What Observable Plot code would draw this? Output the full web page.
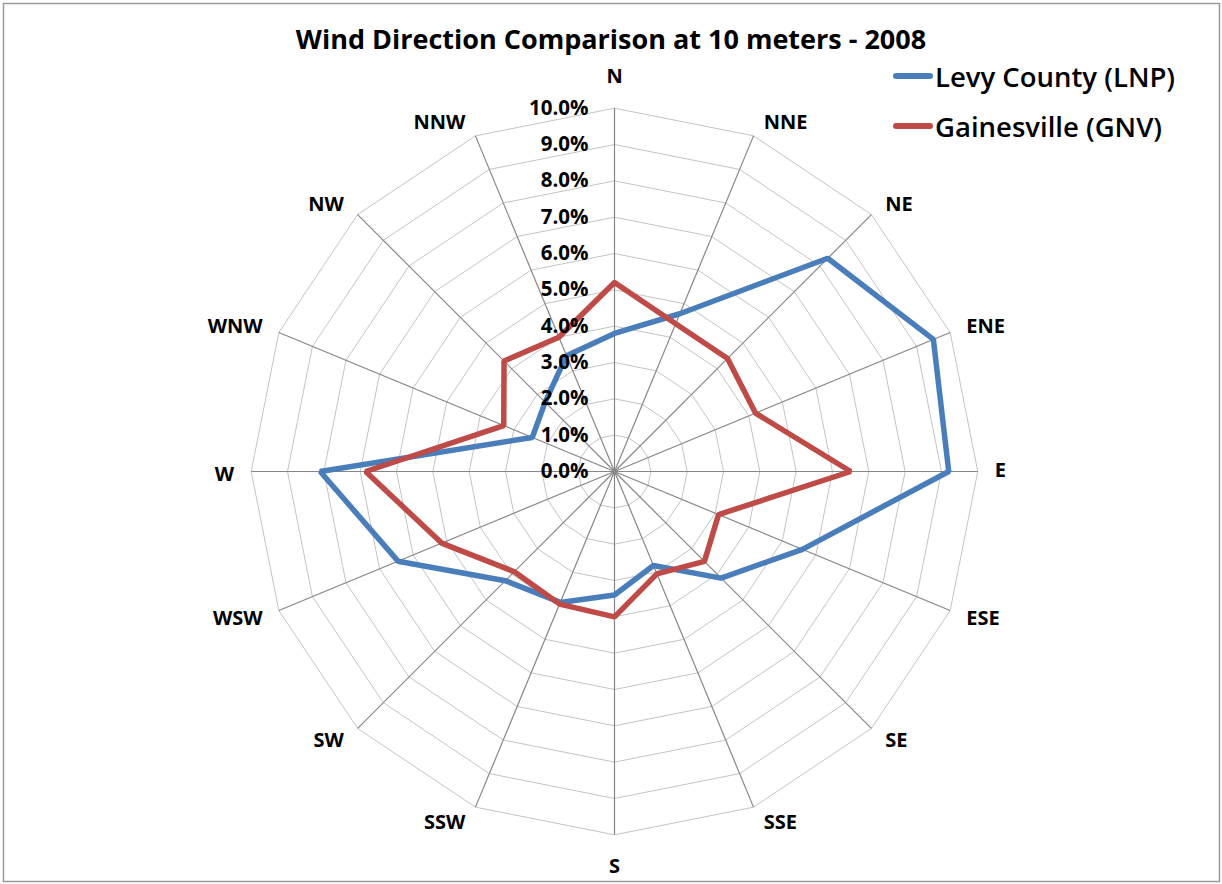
<!DOCTYPE html>
<html>
<head>
<meta charset="utf-8">
<script src="https://cdn.jsdelivr.net/npm/d3@7"></script>
<script src="https://cdn.jsdelivr.net/npm/@observablehq/plot@0.6"></script>
<style>
  html, body { margin: 0; padding: 0; background: #fff; }
  #wrap { position: relative; width: 1222px; height: 884px; font-family: "Open Sans", sans-serif; }
  #title { position: absolute; left: 0; width: 1222px; top: 20px; text-align: center; font-size: 27px; font-weight: 700; color: #000; }
  #legend { position: absolute; left: 893px; top: 51px; }
  .item { display: flex; align-items: center; height: 50px; font-size: 27.5px; font-weight: 600; color: #000; white-space: nowrap; }
  .sw { width: 40px; height: 6px; border-radius: 3px; margin-right: 2px; }
</style>
</head>
<body>
<div id="wrap">
  <div id="chart"></div>
  <div id="title"></div>
  <div id="legend"></div>
</div>
<script>
const title = "Wind Direction Comparison at 10 meters - 2008";
const directions = ["N","NNE","NE","ENE","E","ESE","SE","SSE","S","SSW","SW","WSW","W","WNW","NW","NNW"];
const seriesNames = ["Levy County (LNP)", "Gainesville (GNV)"];
const levy = [3.8, 4.7, 8.3, 9.5, 9.2, 5.6, 4.15, 2.8, 3.4, 3.9, 4.25, 6.45, 8.1, 2.45, 2.7, 3.45];
const gnv  = [5.2, 4.4, 4.4, 4.2, 6.5, 3.1, 3.5, 3.05, 4.0, 3.95, 3.9, 5.15, 6.85, 3.3, 4.3, 4.0];
const tickValues = [0,1,2,3,4,5,6,7,8,9,10];
const tickLabels = ["0.0%","1.0%","2.0%","3.0%","4.0%","5.0%","6.0%","7.0%","8.0%","9.0%","10.0%"];
const colors = ["#4A7EBB", "#BE4B48"];

const W = 1222, H = 884, cx = 614, cy = 471, K = 36.33;
const maxV = 10;
const n = directions.length;
const ang = i => i * 2 * Math.PI / n;
const sn = i => Math.sin(ang(i));
const cs = i => Math.cos(ang(i));
const px = (r, i) => r * sn(i);
const py = (r, i) => r * cs(i);

// ring polygons (gridlines at each tick value)
const rings = [];
for (const k of tickValues.slice(1)) {
  for (let i = 0; i <= n; i++) rings.push({k, x: px(k, i % n), y: py(k, i % n)});
}
function poly(values, name) {
  const out = [];
  for (let i = 0; i <= n; i++) out.push({name, x: px(values[i % n], i % n), y: py(values[i % n], i % n)});
  return out;
}
const levyPts = poly(levy, seriesNames[0]);
const gnvPts = poly(gnv, seriesNames[1]);

const spokes = directions.map((d, i) => ({d, x2: px(maxV, i), y2: py(maxV, i)}));
// category labels placed just outside the outer ring end, Excel-style
const dirLabels = directions.map((d, i) => {
  const s = sn(i), c = cs(i);
  const side = Math.abs(s) < 0.1 ? 0 : Math.sign(s);
  return {
    d, side,
    x: px(maxV, i), y: py(maxV, i),
    dx: side === 0 ? 0 : side * (6 + 11 * Math.abs(s)),
    dy: side === 0 ? -Math.sign(c) * 32 : -13 * c + (c < 0 ? 3 : -1)
  };
});

const chart = Plot.plot({
  width: W, height: H,
  marginTop: 0, marginRight: 0, marginBottom: 0, marginLeft: 0,
  x: {domain: [-cx / K, (W - cx) / K], axis: null},
  y: {domain: [-(H - cy) / K, cy / K], axis: null},
  style: {fontFamily: "Open Sans, sans-serif", background: "white"},
  marks: [
    Plot.frame({stroke: "#9a9a9a", strokeWidth: 1.5, inset: 3}),
    Plot.line(rings, {x: "x", y: "y", z: "k", stroke: "#c4c4c4", strokeWidth: 1}),
    Plot.link(spokes, {x1: 0, y1: 0, x2: "x2", y2: "y2", stroke: "#878787", strokeWidth: 1.2}),
    Plot.line(levyPts, {x: "x", y: "y", stroke: colors[0], strokeWidth: 5.5, strokeLinejoin: "miter"}),
    Plot.line(gnvPts, {x: "x", y: "y", stroke: colors[1], strokeWidth: 5.5, strokeLinejoin: "miter"}),
    Plot.text(tickValues, {x: 0, y: d => d, text: (d, i) => tickLabels[i], textAnchor: "end", dx: -26, fontSize: 20.5, fontWeight: 700, fill: "#000"}),
    ...dirLabels.map(l => Plot.text([l], {
      x: "x", y: "y", text: "d", fontSize: 20, fontWeight: 700, fill: "#000",
      textAnchor: l.side > 0 ? "start" : l.side < 0 ? "end" : "middle",
      dx: l.dx, dy: l.dy
    }))
  ]
});
document.getElementById("chart").appendChild(chart);
document.getElementById("title").textContent = title;
const legend = document.getElementById("legend");
seriesNames.forEach((s, i) => {
  const it = document.createElement("div");
  it.className = "item";
  const sw = document.createElement("div");
  sw.className = "sw";
  sw.style.background = colors[i];
  const t = document.createElement("span");
  t.textContent = s;
  it.appendChild(sw); it.appendChild(t);
  legend.appendChild(it);
});
</script>
</body>
</html>
